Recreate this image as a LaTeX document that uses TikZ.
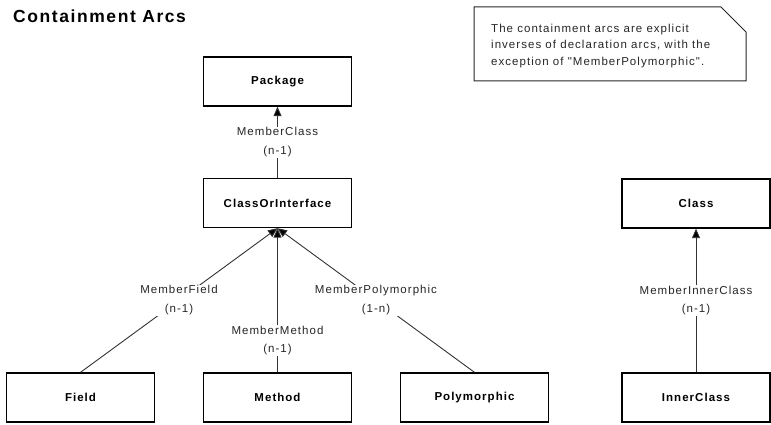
\documentclass[tikz,border=0pt]{standalone}
\usepackage{fontspec}
\setmainfont{Liberation Sans}
\newfontfamily\spacedfont{Liberation Sans}[LetterSpace=9]
\usetikzlibrary{arrows.meta}
\begin{document}
\begin{tikzpicture}[x=1pt,y=-1pt,
  entity/.style={draw=black, line width=1.3pt, fill=white,
    minimum width=148pt, minimum height=49pt, inner sep=0pt,
    font=\spacedfont\bfseries\fontsize{11.5}{13}\selectfont},
  arc/.style={draw=black!80, line width=0.9pt},
  contains/.style={arc, -{Triangle[length=9.5pt,width=8pt,fill=black]}},
  role/.style={fill=white, inner sep=1pt, align=center, text=black!85,
    font=\spacedfont\fontsize{11.5}{18.5}\selectfont},
]
\useasboundingbox (0,0) rectangle (771,425);

% heading
\node[anchor=base west, inner sep=0pt,
  font=\spacedfont\bfseries\fontsize{17.5}{20}\selectfont] (title) at (13,22.7) {Containment Arcs};

% note with folded corner
\draw[line width=1pt, black!85] (474,7) -- (721,7) -- (746,32) -- (746,81) -- (474,81) -- cycle;
\node[anchor=north west, inner sep=0pt, align=left, text=black!85,
  font=\spacedfont\fontsize{11.5}{16.5}\selectfont] (note) at (491,23.6)
  {The containment arcs are explicit\\inverses of declaration arcs, with the\\exception of "MemberPolymorphic".};

% entities
\node[entity] (pkg)    at (277.5,81.5)  {Package};
\node[entity] (coi)    at (277.5,203)   {ClassOrInterface};
\node[entity] (cls)    at (696,203.5)   {Class};
\node[entity] (field)  at (80.5,397.5)  {Field};
\node[entity] (method) at (277.5,397.5) {Method};
\node[entity] (poly)   at (474.5,397.5) {Polymorphic};
\node[entity] (inner)  at (696,397.5)   {InnerClass};

% containment arcs
\draw[contains] (coi) -- node[role]{MemberClass\\(n-1)} (pkg);
\draw[contains] (field.north) -- node[role]{MemberField\\(n-1)} (coi.south);
\draw[contains] (method.north) -- node[role, pos=0.22]{MemberMethod\\(n-1)} (coi.south);
\draw[contains] (poly.north) -- node[role]{MemberPolymorphic\\(1-n)} (coi.south);
\draw[contains] (inner) -- node[role]{MemberInnerClass\\(n-1)} (cls);
\end{tikzpicture}
\end{document}
